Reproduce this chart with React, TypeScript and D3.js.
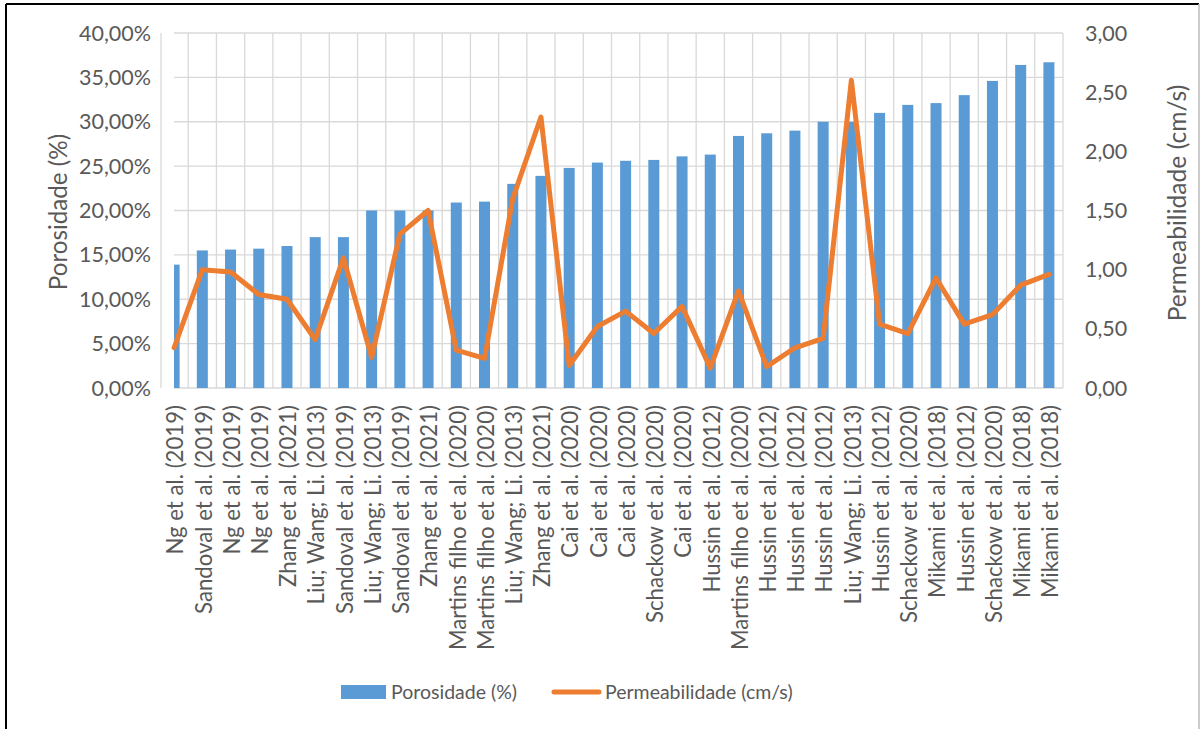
import React from "react";
import * as d3 from "d3";

// Study references, one per bar
const categories: string[] = [
  "Ng et al. (2019)",
  "Sandoval et al. (2019)",
  "Ng et al. (2019)",
  "Ng et al. (2019)",
  "Zhang et al. (2021)",
  "Liu; Wang; Li. (2013)",
  "Sandoval et al. (2019)",
  "Liu; Wang; Li. (2013)",
  "Sandoval et al. (2019)",
  "Zhang et al. (2021)",
  "Martins filho et al. (2020)",
  "Martins filho et al. (2020)",
  "Liu; Wang; Li. (2013)",
  "Zhang et al. (2021)",
  "Cai et al. (2020)",
  "Cai et al. (2020)",
  "Cai et al. (2020)",
  "Schackow et al. (2020)",
  "Cai et al. (2020)",
  "Hussin et al. (2012)",
  "Martins filho et al. (2020)",
  "Hussin et al. (2012)",
  "Hussin et al. (2012)",
  "Hussin et al. (2012)",
  "Liu; Wang; Li. (2013)",
  "Hussin et al. (2012)",
  "Schackow et al. (2020)",
  "Mikami et al. (2018)",
  "Hussin et al. (2012)",
  "Schackow et al. (2020)",
  "Mikami et al. (2018)",
  "Mikami et al. (2018)",
];

// Porosity (%) per study
const porosity: number[] = [
  13.9, 15.5, 15.6, 15.7, 16.0, 17.0, 17.0, 20.0, 20.0, 20.0, 20.9, 21.0,
  23.0, 23.9, 24.8, 25.4, 25.6, 25.7, 26.1, 26.3, 28.4, 28.7, 29.0, 30.0,
  30.0, 31.0, 31.9, 32.1, 33.0, 34.6, 36.4, 36.7,
];

// Permeability (cm/s) per study
const permeability: number[] = [
  0.34, 1.0, 0.98, 0.79, 0.75, 0.41, 1.1, 0.26, 1.3, 1.5, 0.32, 0.25, 1.6,
  2.29, 0.19, 0.52, 0.65, 0.46, 0.69, 0.17, 0.82, 0.18, 0.34, 0.42, 2.6,
  0.54, 0.46, 0.93, 0.54, 0.62, 0.87, 0.96,
];

const leftTicks: number[] = [0, 5, 10, 15, 20, 25, 30, 35, 40];
const rightTicks: number[] = [0, 0.5, 1, 1.5, 2, 2.5, 3];

const FONT = "Lato, 'Open Sans', sans-serif";
const TEXT = "#595959";
const GRID = "#D9D9D9";
const BLUE = "#5B9BD5";
const ORANGE = "#ED7D31";

const W = 1200;
const H = 729;
const plot = { left: 160, right: 1063, top: 33, bottom: 388 };
const clipLeft = 174;

const fmt = (v: number, dec: number) => v.toFixed(dec).replace(".", ",");

export default function App() {
  const idx = categories.map((_, i) => i);
  const x = d3
    .scaleBand<number>()
    .domain(idx)
    .range([plot.left, plot.right])
    .padding(0);
  const yL = d3.scaleLinear().domain([0, 40]).range([plot.bottom, plot.top]);
  const yR = d3.scaleLinear().domain([0, 3]).range([plot.bottom, plot.top]);
  const bw = x.bandwidth();
  const barW = bw * 0.39;
  const cx = (i: number) => (x(i) as number) + bw / 2;

  const line = d3
    .line<number>()
    .x((_, i) => cx(i))
    .y((d) => yR(d));

  return (
    <svg
      width={W}
      height={H}
      style={{ position: "absolute", left: 0, top: 0, background: "#fff" }}
    >
      <defs>
        <clipPath id="plotClip">
          <rect
            x={clipLeft}
            y={plot.top - 10}
            width={plot.right - clipLeft + 10}
            height={plot.bottom - plot.top + 10}
          />
        </clipPath>
      </defs>
      {/* outer frame */}
      <line x1={6} y1={4} x2={1199} y2={4} stroke="#000" strokeWidth={2} />
      <line x1={6} y1={4} x2={6} y2={H} stroke="#000" strokeWidth={2} />
      <line x1={1199} y1={4} x2={1199} y2={H} stroke="#bbb" strokeWidth={1.5} />

      {/* horizontal gridlines */}
      {leftTicks.map((t) => (
        <line
          key={"h" + t}
          x1={clipLeft}
          x2={plot.right}
          y1={yL(t)}
          y2={yL(t)}
          stroke={GRID}
          strokeWidth={1.3}
        />
      ))}
      {/* vertical gridlines */}
      {idx.slice(1).map((i) => (
        <line
          key={"v" + i}
          x1={x(i) as number}
          x2={x(i) as number}
          y1={plot.top}
          y2={plot.bottom}
          stroke={GRID}
          strokeWidth={1.3}
        />
      ))}
      <line
        x1={plot.right}
        x2={plot.right}
        y1={plot.top}
        y2={plot.bottom}
        stroke={GRID}
        strokeWidth={1.3}
      />
      {/* left axis line */}
      <line
        x1={plot.left + 1}
        x2={plot.left + 1}
        y1={plot.top}
        y2={plot.bottom}
        stroke={GRID}
        strokeWidth={1.3}
      />

      {/* bars */}
      <g clipPath="url(#plotClip)">
        {porosity.map((v, i) => (
          <rect
            key={"b" + i}
            x={cx(i) - barW / 2}
            y={yL(v)}
            width={barW}
            height={yL(0) - yL(v)}
            fill={BLUE}
          />
        ))}
      </g>

      {/* permeability line */}
      <path
        d={line(permeability) || ""}
        fill="none"
        stroke={ORANGE}
        strokeWidth={5}
        strokeLinejoin="round"
        strokeLinecap="round"
      />

      {/* left tick labels */}
      {leftTicks.map((t) => (
        <text
          key={"lt" + t}
          x={151}
          y={yL(t)}
          dy="0.35em"
          textAnchor="end"
          fontFamily={FONT}
          fontSize={21.5}
          fill={TEXT}
        >
          {fmt(t, 2) + "%"}
        </text>
      ))}
      {/* right tick labels */}
      {rightTicks.map((t) => (
        <text
          key={"rt" + t}
          x={1085}
          y={yR(t)}
          dy="0.35em"
          textAnchor="start"
          fontFamily={FONT}
          fontSize={21.5}
          fill={TEXT}
        >
          {fmt(t, 2)}
        </text>
      ))}

      {/* category labels */}
      {categories.map((c, i) => (
        <text
          key={"c" + i}
          transform={`translate(${cx(i) + 1.5},405) rotate(-90)`}
          dy="0.35em"
          textAnchor="end"
          fontFamily={FONT}
          fontSize={22.2}
          fill={TEXT}
        >
          {c}
        </text>
      ))}

      {/* axis titles */}
      <text
        transform={`translate(59,212) rotate(-90)`}
        dy="0.35em"
        textAnchor="middle"
        fontFamily={FONT}
        fontSize={24.2}
        fill={TEXT}
      >
        Porosidade (%)
      </text>
      <text
        transform={`translate(1177,203) rotate(-90)`}
        dy="0.35em"
        textAnchor="middle"
        fontFamily={FONT}
        fontSize={24.6}
        fill={TEXT}
      >
        Permeabilidade (cm/s)
      </text>

      {/* legend */}
      <rect x={341} y={685} width={45} height={14} fill={BLUE} />
      <text
        x={391}
        y={692}
        dy="0.35em"
        fontFamily={FONT}
        fontSize={19.5}
        fill={TEXT}
      >
        Porosidade (%)
      </text>
      <line
        x1={554}
        x2={599}
        y1={692}
        y2={692}
        stroke={ORANGE}
        strokeWidth={5}
        strokeLinecap="round"
      />
      <text
        x={605}
        y={692}
        dy="0.35em"
        fontFamily={FONT}
        fontSize={19.5}
        fill={TEXT}
      >
        Permeabilidade (cm/s)
      </text>
    </svg>
  );
}
